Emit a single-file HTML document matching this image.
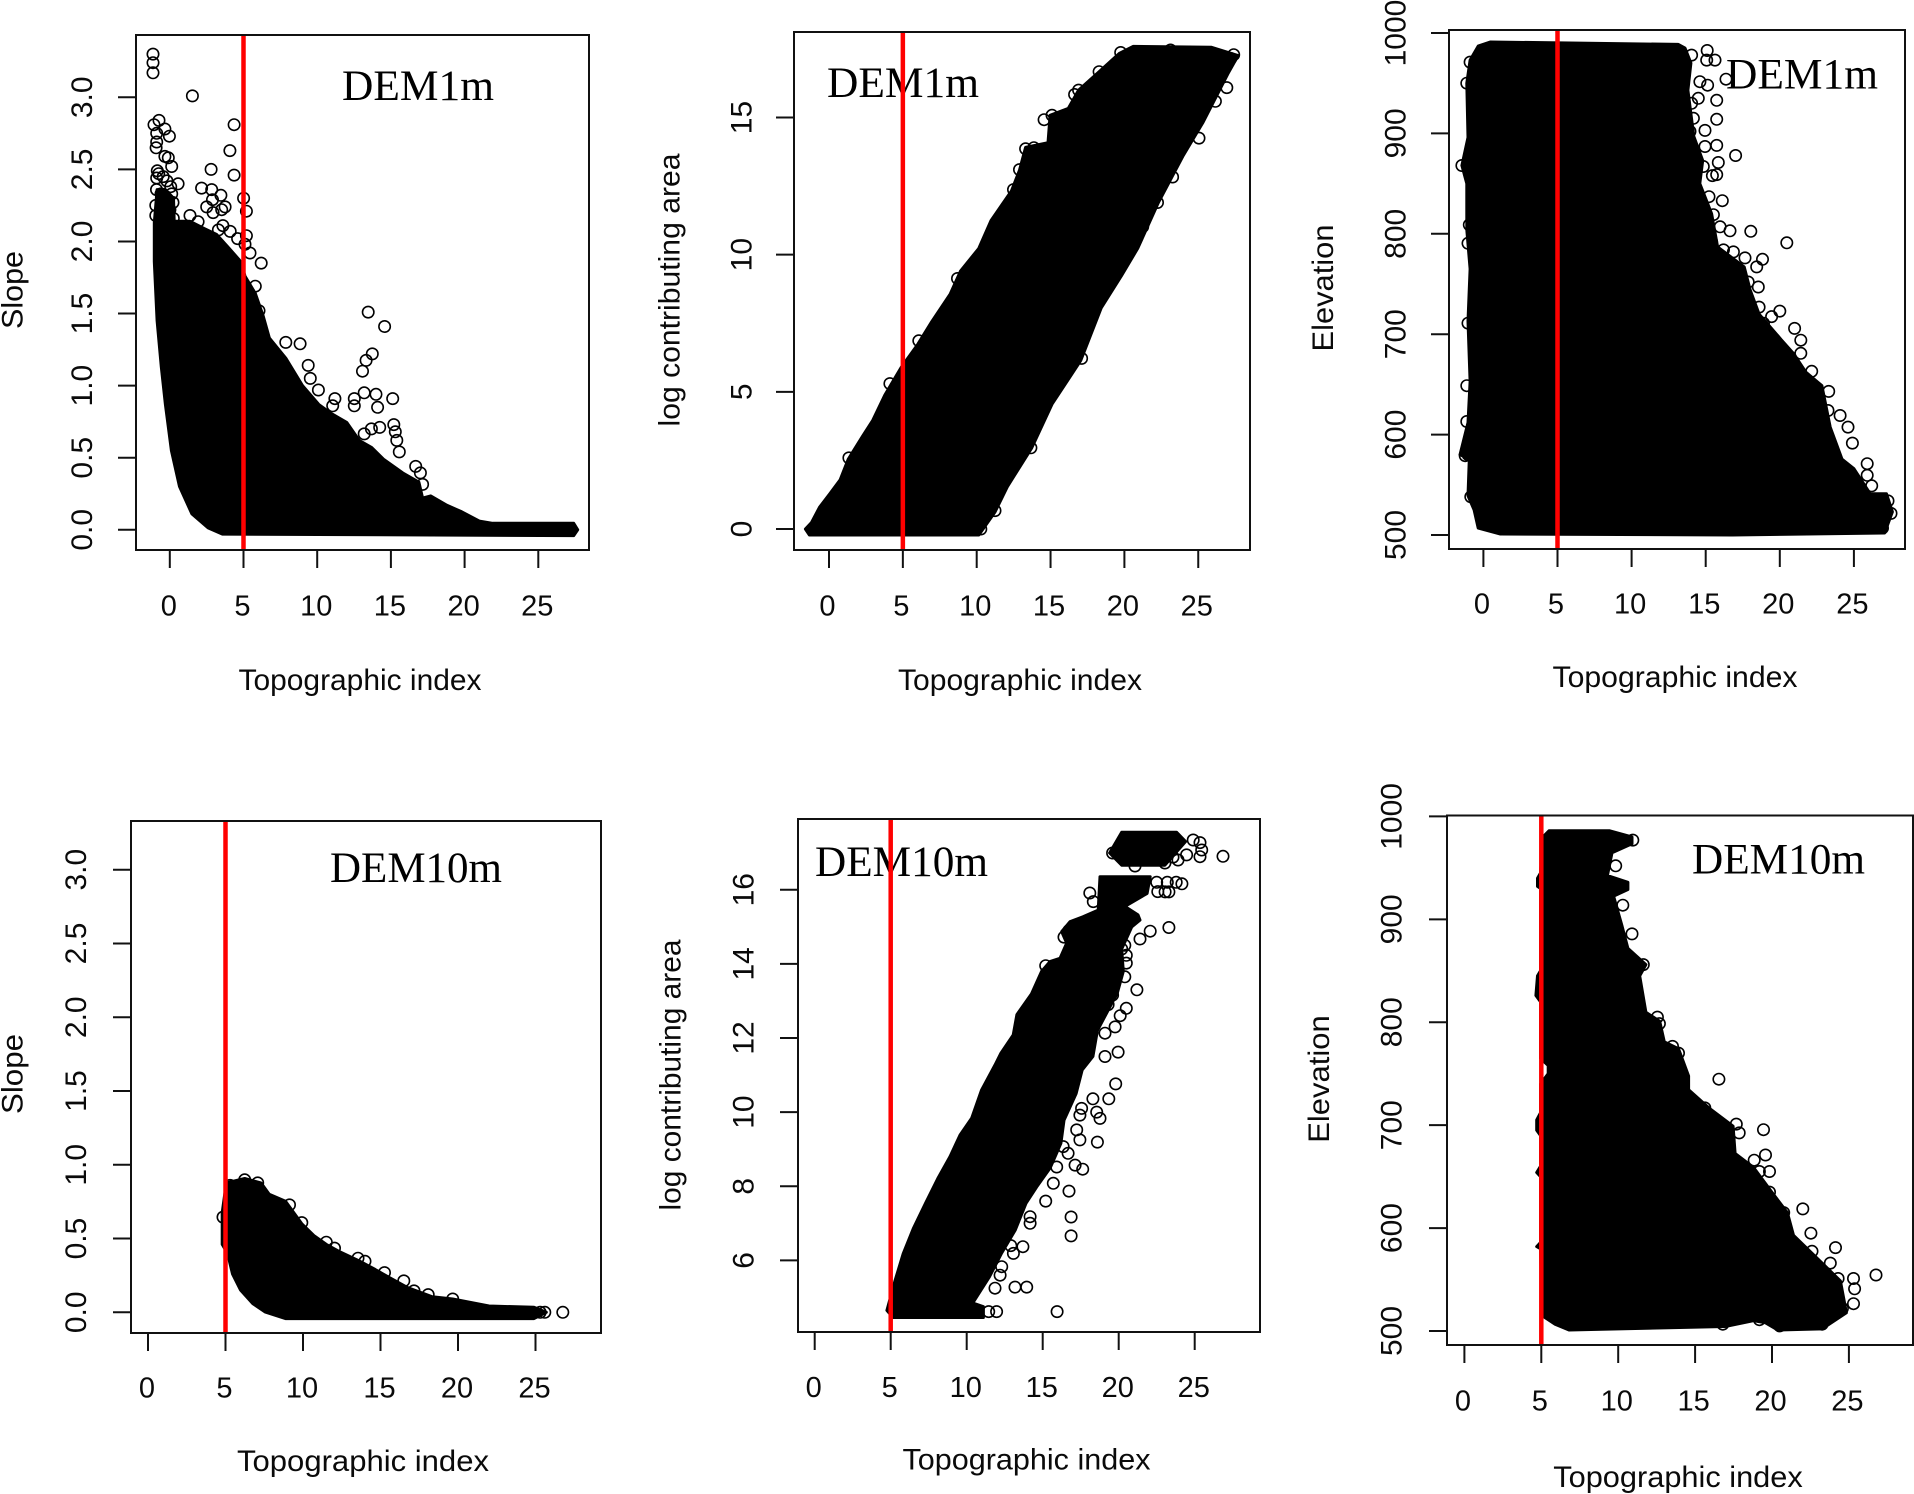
<!DOCTYPE html>
<html lang="en">
<head>
<meta charset="utf-8">
<title>Topographic index scatter plots</title>
<style>
html,body{margin:0;padding:0;background:#fff;width:1914px;height:1494px;overflow:hidden}
svg{display:block}
text{font-family:"Liberation Sans",Arial,sans-serif;fill:#0a0a0a}
.dem{font-family:"Liberation Serif","Times New Roman",serif;fill:#000}
</style>
</head>
<body>
<svg id="figure" xmlns="http://www.w3.org/2000/svg" width="1914" height="1494" viewBox="0 0 1914 1494"></svg>
<script>
// ---- shared tick values ----
const tiTicks = [0,5,10,15,20,25];
const slopeTicks = [0,0.5,1,1.5,2,2.5,3];
const slopeLabels = ["0.0","0.5","1.0","1.5","2.0","2.5","3.0"];
const area1Ticks = [0,5,10,15];
const area10Ticks = [6,8,10,12,14,16];
const elevTicks = [500,600,700,800,900,1000];
const thresholdTI = 5;

// ---- Slope, DEM1m ----
const p1MassTI = [-1.05,-1.05,-0.86,-0.58,-0.3,0.11,0.66,1.5,2.6,3.57,27.4,27.67,27.4,21.9,21,19.8,18.8,17.7,17.15,16.9,15.8,14.5,13.7,12.85,12,10.9,10.1,9,7.87,6.76,6.34,5.8,5.1,4.82,4,3.16,2.33,1.37,0.3,0.25,-0.3,-0.86];
const p1MassSlope = [2.13,1.86,1.45,1.13,0.87,0.55,0.3,0.11,0.013,-0.03,-0.04,0,0.045,0.045,0.06,0.125,0.17,0.235,0.22,0.33,0.395,0.49,0.57,0.62,0.745,0.81,0.87,1,1.19,1.33,1.48,1.64,1.76,1.86,1.955,2.05,2.09,2.14,2.14,2.3,2.36,2.36];
const p1PointTI = [-1.14,-1.14,-1.14,1.53,4.36,4.08,4.36,2.8,2.16,2.84,3.47,2.5,2.9,3.75,2.94,3.52,1.37,1.92,3.6,3.3,5.01,5.2,5.2,5.44,6.2,5.8,7.87,8.84,9.39,9.53,10.08,11.2,11.05,12.52,12.52,13.46,14.57,13.74,13.32,13.07,13.19,13.99,14.1,15.12,15.2,15.3,15.4,15.57,14.24,13.68,13.19,16.68,17,17.15,-0.73,-1.07,-0.33,-0.03,-0.89,-0.89,-0.93,-0.33,-0.1,0.13,-0.85,-0.89,-0.75,0.56,0.06,0.13,0.22,0.01,-0.9,-0.6,-0.95,-0.95,0.24,-0.45,-0.2,5.1,5.55,6.05,4.6,4.1];
const p1PointSlope = [3.3,3.24,3.17,3.01,2.81,2.63,2.46,2.5,2.37,2.36,2.32,2.24,2.29,2.24,2.2,2.22,2.18,2.137,2.11,2.08,2.3,2.21,2.04,1.92,1.85,1.69,1.3,1.29,1.14,1.05,0.97,0.91,0.86,0.91,0.86,1.51,1.41,1.22,1.175,1.1,0.95,0.94,0.85,0.91,0.73,0.68,0.62,0.54,0.71,0.7,0.665,0.44,0.395,0.315,2.84,2.81,2.78,2.73,2.75,2.69,2.65,2.59,2.58,2.52,2.49,2.44,2.47,2.4,2.38,2.33,2.27,2.22,2.36,2.33,2.25,2.18,2.16,2.45,2.42,1.98,1.6,1.52,2.02,2.07];

// ---- Log contributing area, DEM1m ----
const p2MassTI = [-1.6,-1.19,-0.64,0.06,0.75,1.3,2.27,2.96,3.78,4.89,6,6.96,8.2,8.9,10.14,10.97,12.35,12.9,13.31,14.83,14.97,16.2,16.9,18.29,19.67,20.6,25.9,27.7,27,25.33,23.95,22.3,20.9,19.8,18.43,17.04,15.1,13.73,12.07,11.24,10.14,-1.33];
const p2MassArea = [0,0.23,0.79,1.29,1.79,2.54,3.38,3.96,4.88,5.89,6.72,7.56,8.56,9.4,10.23,11.24,12.32,13.08,13.91,14.08,15.08,15.33,16,16.67,17.34,17.59,17.56,17.26,16.59,14.83,13.58,11.9,10.23,9.23,8.06,6.14,4.55,2.96,1.54,0.62,-0.22,-0.22];
const p2PointTI = [14.56,15.1,13.31,13.87,12.9,12.49,16.63,16.9,18.29,19.75,23.12,24.7,23.95,27.4,26.93,26.16,25.05,23.26,22.24,21.24,19.94,17.1,13.67,11.24,10.28,8.7,6.08,4.12,1.35,10.14,24.9,25.3,27.2];
const p2PointArea = [14.92,15.08,13.86,13.9,13.1,12.37,15.84,16,16.67,17.37,17.46,17.29,17.34,17.29,16.09,15.59,14.25,12.83,11.9,11.02,9.9,6.22,2.96,0.67,0,9.13,6.86,5.3,2.59,0.28,17.15,17.2,17.15];

// ---- Elevation, DEM1m ----
const p3MassTI = [-0.35,0.46,13.15,13.6,14,13.8,14.2,14.8,14.6,15.4,15.8,17.6,18,18.6,20.1,20.93,21.75,22.84,23.4,24.2,25,26.1,27.2,27.6,27.07,16.8,1.15,-0.35,-0.63,-1.04,-0.95,-1.58,-1.04,-0.9,-1.04,-0.9,-1.12,-1.12,-1.45,-1.04,-1.12,-0.9];
const p3MassElev = [987,991,988.6,985,970,943,897,873,850,820,787,767,744,720,694.4,680.7,662.4,648.7,607.5,575.5,566,541,541,523,502,500,501,507,525,539,575.5,580,612,653,713,765,804,850,868,896,950,973];
const p3PointTI = [15.1,14.05,15.07,15.63,13.49,13.38,14.61,15.13,16.37,15.74,15.74,14.5,14.05,14.17,14.95,13.94,15.74,14.95,17.02,15.85,15.74,15.45,14.84,15.22,16.12,14.39,15.52,15.97,16.64,18.04,20.47,15.4,16.2,16.87,17.65,18.83,18.44,18.55,17.87,17.87,18.6,20,19.45,18.9,21,21.42,21.42,22.15,23.3,23.25,24.07,24.6,24.9,25.9,25.9,26.2,26.93,27.3,27.5,-1.45,-1.04,-1.12,-1.12,-1.23,-1.03,-0.9,-1.12,-1.04,-0.95,-0.85];
const p3PointElev = [982.6,978,973,973,970,955,951.5,948,954,933,914,935,930,915,903,902,888,887,878,871,859,858,867,837,833,830,819,807,803,802.5,791,792,784,782,776,774.6,767,747,752,734,727,723,717.5,711,705.8,694,681,663,643,624,619,607.5,591.5,571,559.5,549,507,534,521.5,868,711,648.7,613,579,580,971,950,790.5,809,538];

// ---- Slope, DEM10m ----
const p4MassTI = [4.79,4.79,5.05,6.24,7.29,7.82,8.87,9.92,10.7,11.5,12.3,13.6,14.66,15.7,16.76,18.34,19.66,22,24.9,25.7,24.9,8.87,7.55,6.76,5.97,5.45,5.13];
const p4MassSlope = [0.46,0.676,0.877,0.907,0.877,0.8,0.753,0.6,0.52,0.46,0.414,0.35,0.29,0.228,0.167,0.105,0.09,0.043,0.034,0,-0.043,-0.043,0.003,0.059,0.151,0.26,0.4];
const p4PointTI = [26.76,25.3,25.6,19.66,18.08,17.16,16.5,15.26,14,13.55,12.03,11.5,9.13,9.92,6.24,7.08,5.3,5.7,5.45,4.84];
const p4PointSlope = [0,0,0,0.09,0.12,0.145,0.213,0.269,0.346,0.367,0.435,0.475,0.728,0.608,0.898,0.877,0.86,0.83,0.753,0.645];

// ---- Log contributing area, DEM10m ----
const p5MassTI = [4.75,5.28,5.82,6.49,7.29,8.1,8.9,9.56,10.33,10.98,11.86,12.25,13.06,13.3,14.26,14.93,15.48,16.14,16.58,16.25,16.8,17.65,18.65,18.77,22.07,21.87,20.4,21.27,21.4,20.86,20.2,20.3,19.9,19.5,18.6,18.3,17.6,17.2,16.4,16.2,15.5,14.6,13.9,13.2,12.3,11.5,10.4,11.1,11.1,5.15];
const p5MassArea = [4.65,5.45,6.18,6.86,7.54,8.21,8.8,9.38,9.84,10.6,11.27,11.59,12.08,12.63,13.19,13.8,14.06,14.15,14.56,14.87,15.14,15.27,15.45,16.35,16.35,15.9,15.55,15.32,15.18,15,14.4,13.8,13.2,12.9,12.2,11.5,11.14,10.5,9.78,9.16,8.5,7.98,7.54,6.82,6.2,5.56,4.85,4.75,4.46,4.46];
const p5TopTI = [19.4,20.2,23.8,24.4,23.04,20.2];
const p5TopArea = [16.99,17.55,17.55,17.3,16.66,16.66];
const p5PointTI = [26.86,25.35,25.46,25.35,24.47,23.9,24.9,19.6,21.07,23.04,23.57,18.1,18.33,24.16,23.3,22.57,23.05,23.2,22.5,23.78,22.07,23.3,21.4,20.4,20.5,20.5,20.4,21.2,19.6,20.5,20.1,19.76,19.1,19.96,19.1,19.8,18.3,19.35,17.56,18.55,18.77,17.45,17.24,17.45,18.6,16.35,16.67,17.13,17.63,15.92,15.7,16.73,15.2,14.17,14.17,16.87,16.87,13.7,13.07,12.3,12.2,11.86,13.18,13.95,15.95,11.97,11.45,16.73,16.4,15.2,19.9,20.2,19.3,18.9,17.4,16.9,16.1,14.9,14.4,13.4,12.9];
const p5PointArea = [16.9,17.27,17.07,16.89,16.94,16.8,17.34,16.99,16.64,16.72,16.88,15.91,15.68,16.16,15.94,15.95,15.94,16.2,16.2,16.2,14.88,14.98,14.67,14.5,14.23,14.02,13.65,13.3,13.16,12.8,12.6,12.3,12.13,11.62,11.5,10.76,10.36,10.36,10.1,10,9.83,9.92,9.52,9.25,9.19,9.07,8.89,8.57,8.46,8.52,8.08,7.87,7.6,7.18,7,7.17,6.66,6.37,6.19,5.83,5.6,5.25,5.28,5.28,4.62,4.62,4.62,14.9,14.72,13.95,13.9,14.4,12.9,13.6,12.3,11.7,10.6,9.5,8.3,7.4,6.4];

// ---- Elevation, DEM10m ----
const p6MassTI = [5.1,5.5,9.45,10.9,10.9,9.6,9.3,10.63,10.63,9.7,10.24,10.63,11.8,11.4,11.8,12.7,13,13.92,14.58,14.58,15.9,17.47,17.6,18.8,20.1,21,21.4,23.26,24.45,24.84,23.26,20.37,19.58,18.8,16.95,6.8,5.9,5.05,4.95,4.7,4.95,4.95,4.7,4.95,4.95,4.7,4.7,4.95,4.95,5.45,5.45,4.95,4.95,4.65,4.75,4.95,4.95,4.75,4.75,4.95];
const p6MassElev = [980,986,986,980,973.5,964.6,942.5,936,929,922.6,894,871.7,856,845,809.7,801,781,774.3,747.8,734.5,716.8,699,672.6,659,632.7,615,593,566,548.7,517.7,502,501,508,510,504.4,501,506.6,515,580,582,586,650,654,660,690,695,705,712,740,750,758,765,820,826,845,850,930,932,940,945];
const p6PointTI = [16.55,19.45,17.68,17.87,19.58,18.84,19.18,19.84,22,22.53,22.6,24.13,25.3,25.37,25.3,26.76,10.9,10.3,10.95,9.84,11.63,12.55,12.68,13.53,13.92,15.63,19.84,20.76,23.79,24.3,24.58,23.26,20.5,19.18,16.8];
const p6PointElev = [744.7,695.6,701,692.5,671,666,655,655,618.6,595,577.4,581,551,541,526.5,554.4,885.8,913.7,977,952,856,805,798.7,776.5,770,716.8,635,615,566,551,522,506.6,505,511,506.6];

const panels = [
 {slug:'slope-dem1m',box:[136,35,589,550],x0:169.8,kx:14.74,yA:[0,529.8],yB:[3,97.3],mass:[[p1MassTI,p1MassSlope]],pts:[p1PointTI,p1PointSlope],yTicks:slopeTicks,yLabels:slopeLabels,xShift:-1,
  yTickX:81.5,yTitle:'Slope',yTitleX:12,yTitleY:290,yTitleLen:78,xTickY:605,xTitleX:360,xTitleY:680,xTitleLen:243,dem:'DEM1m',demX:342,demY:85.5,demLen:152},
 {slug:'area-dem1m',box:[794,32,1250,550],x0:829,kx:14.77,yA:[0,529],yB:[15,117.5],mass:[[p2MassTI,p2MassArea]],pts:[p2PointTI,p2PointArea],yTicks:area1Ticks,yLabels:area1Ticks.map(String),xShift:-1.5,
  yTickX:741,yTitle:'log contributing area',yTitleX:669,yTitleY:290,yTitleLen:273,xTickY:605,xTitleX:1020,xTitleY:680,xTitleLen:244,dem:'DEM1m',demX:827,demY:82.5,demLen:152},
 {slug:'elevation-dem1m',box:[1449,30,1905,549],x0:1483.4,kx:14.82,yA:[500,535],yB:[1000,33],mass:[[p3MassTI,p3MassElev]],pts:[p3PointTI,p3PointElev],yTicks:elevTicks,yLabels:elevTicks.map(String),xShift:-1.5,
  yTickX:1395,yTitle:'Elevation',yTitleX:1322.5,yTitleY:288,yTitleLen:127,xTickY:603,xTitleX:1675,xTitleY:677,xTitleLen:245,dem:'DEM1m',demX:1726,demY:74,demLen:152},
 {slug:'slope-dem10m',box:[131,821,601,1333],x0:148,kx:15.5,yA:[0,1312.3],yB:[3,869.7],mass:[[p4MassTI,p4MassSlope]],pts:[p4PointTI,p4PointSlope],yTicks:slopeTicks,yLabels:slopeLabels,xShift:-1,
  yTickX:75.5,yTitle:'Slope',yTitleX:12,yTitleY:1074,yTitleLen:80,xTickY:1387,xTitleX:363,xTitleY:1461,xTitleLen:252,dem:'DEM10m',demX:330,demY:867.5,demLen:172},
 {slug:'area-dem10m',box:[798,819,1260,1332],x0:814.7,kx:15.2,yA:[6,1260.4],yB:[16,889.7],mass:[[p5MassTI,p5MassArea],[p5TopTI,p5TopArea]],pts:[p5PointTI,p5PointArea],yTicks:area10Ticks,yLabels:area10Ticks.map(String),xShift:-1,
  yTickX:743,yTitle:'log contributing area',yTitleX:670,yTitleY:1075,yTitleLen:271,xTickY:1386.5,xTitleX:1026.5,xTitleY:1459.5,xTitleLen:248,dem:'DEM10m',demX:815,demY:861.5,demLen:173},
 {slug:'elevation-dem10m',box:[1447,815.5,1913,1345],x0:1464.4,kx:15.38,yA:[500,1331],yB:[1000,816.4],mass:[[p6MassTI,p6MassElev]],pts:[p6PointTI,p6PointElev],yTicks:elevTicks,yLabels:elevTicks.map(String),xShift:-1.5,
  yTickX:1391,yTitle:'Elevation',yTitleX:1318.5,yTitleY:1079,yTitleLen:127.5,xTickY:1400,xTitleX:1678,xTitleY:1477,xTitleLen:249.5,dem:'DEM10m',demX:1692,demY:859,demLen:173}
];

const NS = 'http://www.w3.org/2000/svg';
const root = document.getElementById('figure');
function make(tag, attrs, parent){
  const n = document.createElementNS(NS, tag);
  for (const k in attrs) n.setAttribute(k, attrs[k]);
  parent.appendChild(n);
  return n;
}

panels.forEach(function(p){
  const X = v => p.x0 + v * p.kx;
  const ky = (p.yB[1] - p.yA[1]) / (p.yB[0] - p.yA[0]);
  const Y = v => p.yA[1] + (v - p.yA[0]) * ky;
  const [bx0, by0, bx1, by1] = p.box;

  const g = make('g', {}, root);
  
  

  // point mass
  p.mass.forEach(function(m){
    const pts = m[0].map((v, i) => X(v).toFixed(1) + ',' + Y(m[1][i]).toFixed(1)).join(' ');
    const poly = make('polygon', {points: pts, fill: '#000', stroke: '#000', 'stroke-width': 3, 'stroke-linejoin': 'round'}, g);
    
    
  });

  // individual open circles
  p.pts[0].forEach(function(v, i){
    const c = make('circle', {cx: X(v).toFixed(1), cy: Y(p.pts[1][i]).toFixed(1), r: 5.7, fill: 'none', stroke: '#000', 'stroke-width': 1.6}, g);
    
    
  });

  // DEM annotation
  const dem = make('text', {class: 'dem', x: p.demX, y: p.demY + 14.5, 'font-size': 43, textLength: p.demLen, lengthAdjust: 'spacingAndGlyphs'}, g);
  dem.textContent = p.dem;
  
  

  // threshold line
  const red = make('line', {x1: X(thresholdTI), x2: X(thresholdTI), y1: by0, y2: by1, stroke: '#f00', 'stroke-width': 4.5}, g);
  
  

  // plot frame
  const frame = make('rect', {x: bx0, y: by0, width: bx1 - bx0, height: by1 - by0, fill: 'none', stroke: '#111', 'stroke-width': 2}, g);
  
  

  // x axis
  tiTicks.forEach(function(t){
    const tick = make('line', {x1: X(t), x2: X(t), y1: by1, y2: by1 + 18, stroke: '#111', 'stroke-width': 2}, g);
    
    
    const lab = make('text', {x: X(t) + p.xShift, y: p.xTickY + 10.5, 'font-size': 29, 'text-anchor': 'middle'}, g);
    lab.textContent = String(t);
    
    
  });
  const xt = make('text', {x: p.xTitleX, y: p.xTitleY + 10, 'font-size': 29.5, 'text-anchor': 'middle', textLength: p.xTitleLen, lengthAdjust: 'spacingAndGlyphs'}, g);
  xt.textContent = 'Topographic index';
  
  

  // y axis
  p.yTicks.forEach(function(t, i){
    const tick = make('line', {x1: bx0 - 18, x2: bx0, y1: Y(t), y2: Y(t), stroke: '#111', 'stroke-width': 2}, g);
    
    
    const lab = make('text', {x: p.yTickX + 10.5, y: Y(t), 'font-size': 30, 'text-anchor': 'middle', transform: 'rotate(-90 ' + (p.yTickX + 10.5) + ' ' + Y(t) + ')'}, g);
    lab.textContent = p.yLabels[i];
    
    
  });
  const yx = p.yTitleX + 10.5;
  const yt = make('text', {x: yx, y: p.yTitleY, 'font-size': 30, 'text-anchor': 'middle', textLength: p.yTitleLen, lengthAdjust: 'spacingAndGlyphs', transform: 'rotate(-90 ' + yx + ' ' + p.yTitleY + ')'}, g);
  yt.textContent = p.yTitle;
  
  
});
</script>
</body>
</html>
